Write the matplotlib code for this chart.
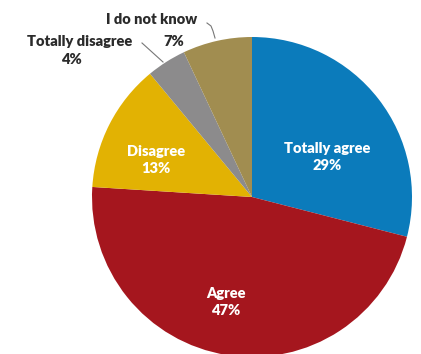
import matplotlib
matplotlib.use("Agg")
import matplotlib.pyplot as plt
import numpy as np

labels = ["Totally agree", "Agree", "Disagree", "Totally disagree", "I do not know"]
values = [29, 47, 13, 4, 7]
colors = ["#0b7bbb", "#a5161e", "#e2b203", "#8c8b8c", "#a18d50"]

plt.rcParams['font.family'] = ['Lato', 'DejaVu Sans']

fig = plt.figure(figsize=(4.21, 3.54), dpi=100)
ax = fig.add_axes([0, 0, 1, 1])

cx, cy, r = 252, 157, 160
wedges, _ = ax.pie(values, colors=colors, startangle=90, counterclock=False,
                   center=(cx, cy), radius=r, frame=True,
                   wedgeprops=dict(linewidth=0))
ax.set_xlim(0, 421)
ax.set_ylim(0, 354)
ax.set_aspect('equal')
ax.axis('off')

fs = 10.5
# inside labels (white), placed by angle / distance from centre
inside = {0: (28, 85), 1: (-104, 108), 2: (159, 103)}
for i, (ang, dist) in inside.items():
    x = cx + dist * np.cos(np.radians(ang))
    y = cy + dist * np.sin(np.radians(ang))
    ax.text(x, y, f"{labels[i]}\n{values[i]}%", color="white", fontsize=fs,
            fontweight="heavy", ha="center", va="center", linespacing=1.4)

# outside labels with leader lines
tc = "#2b2b2b"
ax.text(80, 312, labels[3], color=tc, fontsize=fs, fontweight="heavy",
        ha="center", va="center")
ax.text(71, 294, f"{values[3]}%", color=tc, fontsize=fs, fontweight="heavy",
        ha="center", va="center")
ax.plot([142, 163], [311, 292], color="#777777", lw=0.8)

ax.text(152, 334, labels[4], color=tc, fontsize=fs, fontweight="heavy",
        ha="center", va="center")
ax.text(174, 312, f"{values[4]}%", color=tc, fontsize=fs, fontweight="heavy",
        ha="center", va="center")
ax.plot([207, 211, 213, 215], [331, 328, 323, 316], color="#777777", lw=0.8)

fig.savefig("out.png", dpi=100)
